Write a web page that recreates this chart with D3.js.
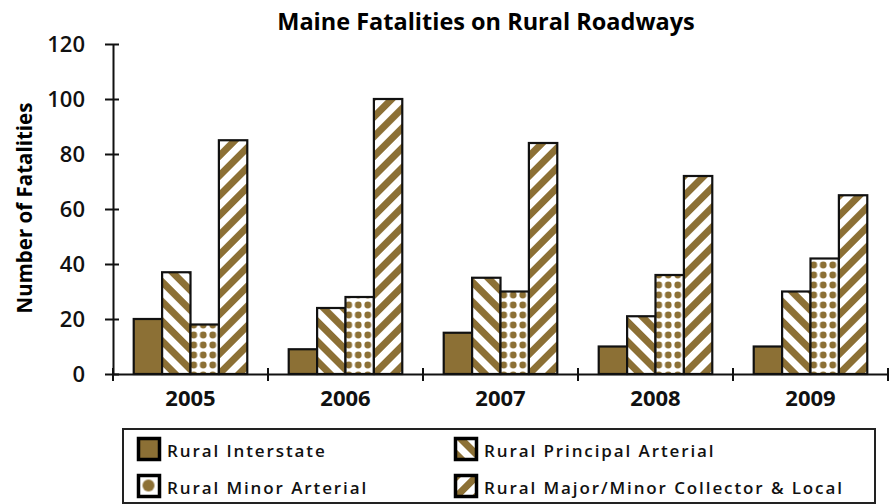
<!DOCTYPE html>
<html>
<head>
<meta charset="utf-8">
<script src="https://cdn.jsdelivr.net/npm/d3@7"></script>
<style>
  body { margin: 0; background: #fff; }
  svg { display: block; font-family: "Open Sans", sans-serif; }
</style>
</head>
<body>
<div id="chart"></div>
<script>
// data
const years = ["2005", "2006", "2007", "2008", "2009"];
const series = [
  "Rural Interstate",
  "Rural Principal Arterial",
  "Rural Minor Arterial",
  "Rural Major/Minor Collector & Local"
];
const interstate = [20, 9, 15, 10, 10];
const principal = [37, 24, 35, 21, 30];
const minor = [18, 28, 30, 36, 42];
const collector = [85, 100, 84, 72, 65];
const yTicks = [0, 20, 40, 60, 80, 100, 120];

const values = [interstate, principal, minor, collector];
const fills = ["#8c7035", "url(#diagDown)", "url(#dots)", "url(#diagUp)"];
const brown = "#8c7035";

const W = 895, H = 504;
const svg = d3.select("#chart").append("svg")
  .attr("width", W)
  .attr("height", H);

// patterns
const defs = svg.append("defs");

function stripes (id, angle) {
  let p = defs.append("pattern")
    .attr("id", id)
    .attr("patternUnits", "userSpaceOnUse")
    .attr("width", 14).attr("height", 14)
    .attr("patternTransform", `rotate(${angle})`);
  p.append("rect").attr("width", 14).attr("height", 14).attr("fill", "#fff");
  p.append("rect").attr("width", 7).attr("height", 14).attr("fill", brown);
}
stripes("diagDown", -45);
stripes("diagUp", 45);

let p = defs.append("pattern")
  .attr("id", "dots")
  .attr("patternUnits", "userSpaceOnUse")
  .attr("width", 9.5).attr("height", 10);
p.append("rect").attr("width", 9.5).attr("height", 10).attr("fill", "#fff");
p.append("circle").attr("cx", 4.75).attr("cy", 5).attr("r", 3.4).attr("fill", brown);

// legend swatch (one big dot)
p = defs.append("pattern")
  .attr("id", "dotBig")
  .attr("patternUnits", "objectBoundingBox")
  .attr("width", 1).attr("height", 1);
p.append("rect").attr("width", 20).attr("height", 20).attr("fill", "#fff");
p.append("circle").attr("cx", 10).attr("cy", 10).attr("r", 6).attr("fill", brown);

// scales
const x = d3.scaleBand()
  .domain(years)
  .range([113, 888])
  .padding(0);

const xInner = d3.scaleBand()
  .domain(d3.range(series.length))
  .range([0, x.bandwidth()])
  .paddingInner(0)
  .paddingOuter(0.73);

const y = d3.scaleLinear()
  .domain([0, 120])
  .range([374, 44]);

// title
svg.append("text")
  .attr("x", 486)
  .attr("y", 30)
  .attr("text-anchor", "middle")
  .style("font-size", "23.5px")
  .style("font-weight", "700")
  .text("Maine Fatalities on Rural Roadways");

// y axis title
svg.append("text")
  .attr("transform", "translate(32,208) rotate(-90)")
  .attr("text-anchor", "middle")
  .style("font-size", "20.5px")
  .style("font-weight", "700")
  .text("Number of Fatalities");

// bars
const groups = svg.selectAll(".year")
  .data(years)
  .enter().append("g")
  .attr("class", "year")
  .attr("transform", (d) => `translate(${x(d)},0)`);

groups.selectAll("rect")
  .data((d, i) => values.map((v, s) => ({ s: s, v: v[i] })))
  .enter().append("rect")
  .attr("x", (d) => xInner(d.s))
  .attr("y", (d) => y(d.v))
  .attr("width", xInner.bandwidth())
  .attr("height", (d) => y(0) - y(d.v))
  .attr("fill", (d) => fills[d.s])
  .attr("stroke", "#111")
  .attr("stroke-width", 2.2);

// y axis
const yAxis = svg.append("g")
  .attr("transform", "translate(113,0)")
  .call(d3.axisLeft(y).tickValues(yTicks).tickSizeOuter(0).tickPadding(22));
yAxis.select(".domain").attr("stroke", "#111").attr("stroke-width", 2);
yAxis.selectAll(".tick line").attr("x1", -8).attr("x2", 6)
  .attr("stroke", "#111").attr("stroke-width", 2);
yAxis.selectAll(".tick text")
  .style("font-size", "22px")
  .style("font-weight", "600")
  .style("font-family", "'Open Sans', sans-serif")
  .attr("fill", "#111");

// x axis
const xAxis = svg.append("g")
  .attr("transform", "translate(0,374)")
  .call(d3.axisBottom(x).tickSize(0).tickPadding(16));
xAxis.select(".domain").attr("stroke", "#111").attr("stroke-width", 2);
xAxis.selectAll(".tick text")
  .style("font-size", "22px")
  .style("font-weight", "700")
  .style("font-family", "'Open Sans', sans-serif")
  .attr("fill", "#111");

const bounds = years.map((d) => x(d)).concat([x(years[years.length - 1]) + x.bandwidth()]);
xAxis.selectAll(".bound")
  .data(bounds)
  .enter().append("line")
  .attr("class", "bound")
  .attr("x1", (d) => d).attr("x2", (d) => d)
  .attr("y1", -6).attr("y2", 7)
  .attr("stroke", "#111").attr("stroke-width", 2);

// legend
const legend = svg.append("g");
legend.append("rect")
  .attr("x", 123).attr("y", 429)
  .attr("width", 752).attr("height", 74)
  .attr("fill", "#fff")
  .attr("stroke", "#222")
  .attr("stroke-width", 2);

const legendPos = [
  { x: 137, y: 437 },
  { x: 454, y: 437 },
  { x: 137, y: 474 },
  { x: 454, y: 474 }
];
const legendFill = [brown, "url(#diagDown)", "url(#dotBig)", "url(#diagUp)"];

const items = legend.selectAll(".item")
  .data(series)
  .enter().append("g")
  .attr("class", "item")
  .attr("transform", (d, i) => `translate(${legendPos[i].x},${legendPos[i].y})`);

items.append("rect")
  .attr("x", 1.5).attr("y", 1.5)
  .attr("width", 21).attr("height", 21)
  .attr("fill", (d, i) => legendFill[i])
  .attr("stroke", "#000")
  .attr("stroke-width", 3.5);

items.append("text")
  .attr("x", 30)
  .attr("y", 20)
  .style("font-size", "17px")
  .style("font-weight", "600")
  .style("letter-spacing", "1.9px")
  .attr("fill", "#111")
  .text((d) => d);
</script>
</body>
</html>
